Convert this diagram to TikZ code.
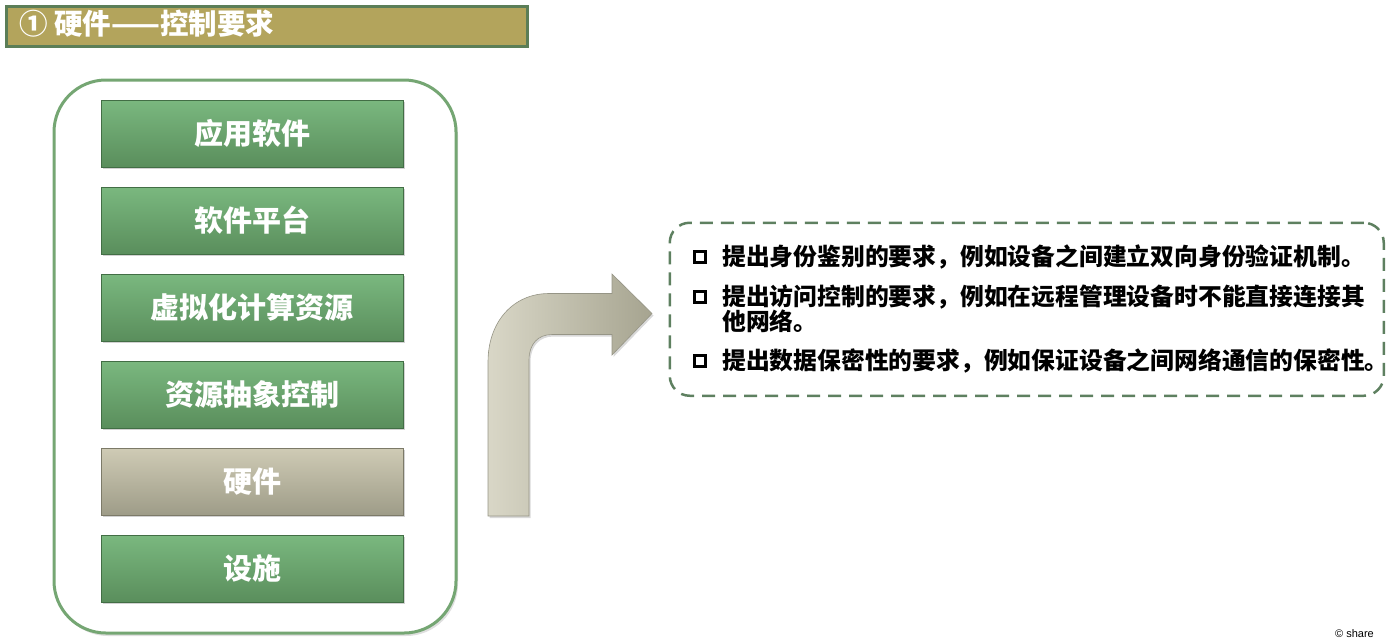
\documentclass[tikz,border=0pt]{standalone}
\usepackage{fontspec}
\newfontfamily\cjk{Noto Sans CJK SC}
\setsansfont{Liberation Sans}
\usetikzlibrary{shadows}
\definecolor{titlefill}{HTML}{B3A45C}
\definecolor{titleline}{HTML}{5B7E57}
\definecolor{outerline}{HTML}{75A673}
\definecolor{gtop}{HTML}{7AB87F}
\definecolor{gbot}{HTML}{5A8E5C}
\definecolor{gline}{HTML}{426E45}
\definecolor{htop}{HTML}{CFCBB5}
\definecolor{hbot}{HTML}{9E9C88}
\definecolor{hline}{HTML}{7C7A68}
\definecolor{dashline}{HTML}{5E8060}
\definecolor{arrL}{HTML}{D9D7C7}
\definecolor{arrR}{HTML}{A6A490}
\tikzset{
  layerbox/.style={minimum width=302pt, minimum height=67pt, inner sep=0pt,
    top color=gtop, bottom color=gbot, draw=gline, line width=0.8pt,
    drop shadow={shadow xshift=1.5pt, shadow yshift=-2pt, opacity=0.35},
    text=white, font=\cjk\bfseries\fontsize{29}{31}\selectfont},
  hwbox/.style={layerbox, top color=htop, bottom color=hbot, draw=hline},
  txt/.style={anchor=west, inner sep=0pt, align=left, text=black,
    font=\cjk\bfseries\fontsize{23.8}{25}\selectfont},
  bul/.style={draw=black, line width=2.6pt, minimum size=11pt, inner sep=0pt}
}
\begin{document}
\begin{tikzpicture}[x=1pt,y=-1pt]
\useasboundingbox (0,0) rectangle (1391,641);
% title bar
\node[draw=titleline, line width=3pt, fill=titlefill, minimum width=521pt, minimum height=40pt,
  inner sep=0pt, anchor=north west] (title) at (4.5,4.5) {};
\node[anchor=west, text=white, inner sep=0pt, font=\cjk\bfseries\fontsize{28.5}{30}\selectfont]
  (titletext) at (19,24) {① 硬件——控制要求};
% outer rounded frame
\node[draw=outerline, line width=3pt, rounded corners=52pt, minimum width=402pt, minimum height=553pt,
  anchor=north west, inner sep=0pt, fill=white,
  drop shadow={shadow xshift=2pt, shadow yshift=-3pt, opacity=0.25}] (frame) at (52.5,78.5) {};
% layer boxes
\node[layerbox] (b1) at (252,133.5) {应用软件};
\node[layerbox] (b2) at (252,220.5) {软件平台};
\node[layerbox] (b3) at (252,307.5) {虚拟化计算资源};
\node[layerbox] (b4) at (252,394.5) {资源抽象控制};
\node[hwbox]    (b5) at (252,481.5) {硬件};
\node[layerbox] (b6) at (252,568.5) {设施};
% bent arrow
\draw[draw=hline!80, line width=0.6pt, left color=arrL, right color=arrR,
  drop shadow={shadow xshift=1.5pt, shadow yshift=-2pt, opacity=0.3}]
  (488,516) -- (488,362) .. controls (488,322) and (513,293.5) .. (549,293.5)
  -- (612,293.5) -- (612,274) -- (652,313.5) -- (612,355) -- (612,334.5)
  -- (552,334.5) .. controls (538,334.5) and (529,344) .. (529,360) -- (529,516) -- cycle;
% dashed box
\node[draw=dashline, line width=2.5pt, dash pattern=on 13pt off 8pt, rounded corners=20pt,
  minimum width=714pt, minimum height=173pt, anchor=north west, inner sep=0pt] (req) at (668.5,221.5) {};
% bullets and texts
\node[bul] (q1) at (700,257) {};
\node[txt] (t1) at (722,257) {提出身份鉴别的要求，例如设备之间建立双向身份验证机制。};
\node[bul] (q2) at (700,297) {};
\node[txt, anchor=north west] (t2) at (722,284.5) {提出访问控制的要求，例如在远程管理设备时不能直接连接其\\他网络。};
\node[bul] (q3) at (700,361) {};
\node[txt] (t3) at (722,361) {提出数据保密性的要求，例如保证设备之间网络通信的保密性。};
% copyright
\node[anchor=east, inner sep=0pt, font=\sffamily\fontsize{11}{12}\selectfont] (copy) at (1374,634) {© share};
\end{tikzpicture}
\end{document}
